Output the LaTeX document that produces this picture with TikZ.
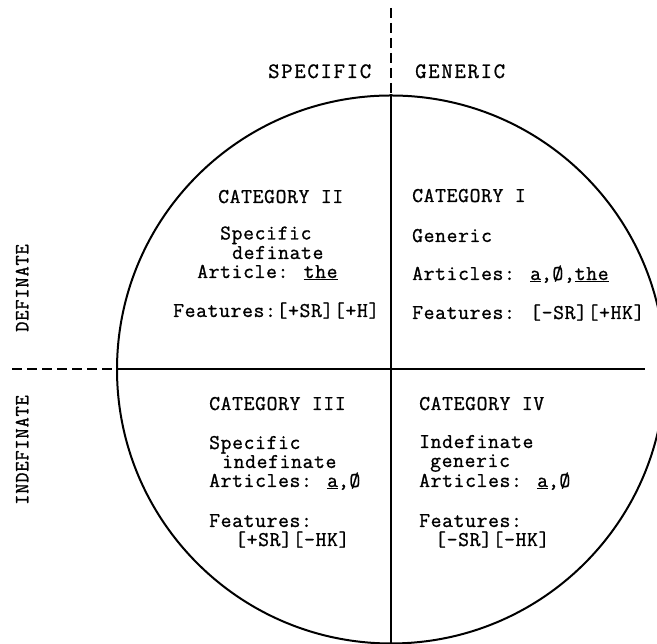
\documentclass[tikz,border=0pt]{standalone}
\usepackage{fontspec}
\newfontfamily\typefam{Latin Modern Mono}[FakeBold=1.0,LetterSpace=3.2]
\newfontfamily\headfam{Latin Modern Mono}[FakeBold=1.0,LetterSpace=8]
\newfontfamily\sidefam{Latin Modern Mono}[FakeBold=1.0,LetterSpace=3.7]
\begin{document}
\begin{tikzpicture}[x=1pt,y=1pt,
  txt/.style={anchor=base west,inner sep=0pt,text height=12pt,text depth=3pt,font=\typefam\fontsize{21}{23}\selectfont},
  hdr/.style={anchor=base west,inner sep=0pt,font=\headfam\fontsize{22}{24}\selectfont},
  side/.style={rotate=90,inner sep=0pt,font=\sidefam\fontsize{20}{22}\selectfont},
  solidline/.style={line width=2pt},
  dashline/.style={line width=2pt,dash pattern=on 10pt off 5pt}]
\clip (0,0) rectangle (657,644);
\fill[white] (0,0) rectangle (657,644);
% circle and axes
\node[draw,circle,line width=2pt,minimum size=548pt,inner sep=0pt] (circ) at (391,274.5) {};
\coordinate (vtop) at (391,636);
\coordinate (hleft) at (12,274.5);
\coordinate (hright) at (645,274.5);
\draw[dashline] (vtop) -- (circ.north);
\draw[solidline] (circ.north) -- (circ.south);
\draw[dashline] (hleft) -- (circ.west);
\draw[solidline] (circ.west) -- (hright);
% headers
\node[hdr] (spec) at (268,566) {SPECIFIC};
\node[hdr] (gen) at (415,566) {GENERIC};
\node[side] (def) at (22,356) {DEFINATE};
\node[side] (indef) at (22,194) {INDEFINATE};
% Category II
\node[txt] (c2t) at (218,441) {CATEGORY II};
\node[txt] (c2a) at (220,404.5) {Specific};
\node[txt] (c2b) at (232,385) {definate};
\node[txt] (c2c) at (197,366) {Article: \underline{the}};
\node[txt] (c2d) at (173,327) {Features:[+SR][+H]};
% Category I
\node[txt] (c1t) at (412,442) {CATEGORY I};
\node[txt] (c1a) at (412,402) {Generic};
\node[txt] (c1c) at (412,364) {Articles: \underline{a},Ø,\underline{the}};
\node[txt] (c1d) at (412,325) {Features: [-SR][+HK]};
% Category III
\node[txt] (c3t) at (209,234) {CATEGORY III};
\node[txt] (c3a) at (209,195) {Specific};
\node[txt] (c3b) at (222,176) {indefinate};
\node[txt] (c3c) at (209,157) {Articles: \underline{a},Ø};
\node[txt] (c3d) at (209,117) {Features:};
\node[txt] (c3e) at (235,98) {[+SR][-HK]};
% Category IV
\node[txt] (c4t) at (419,234) {CATEGORY IV};
\node[txt] (c4a) at (419,196) {Indefinate};
\node[txt] (c4b) at (430,177) {generic};
\node[txt] (c4c) at (419,157) {Articles: \underline{a},Ø};
\node[txt] (c4d) at (419,117) {Features:};
\node[txt] (c4e) at (435,98) {[-SR][-HK]};
\end{tikzpicture}
\end{document}
